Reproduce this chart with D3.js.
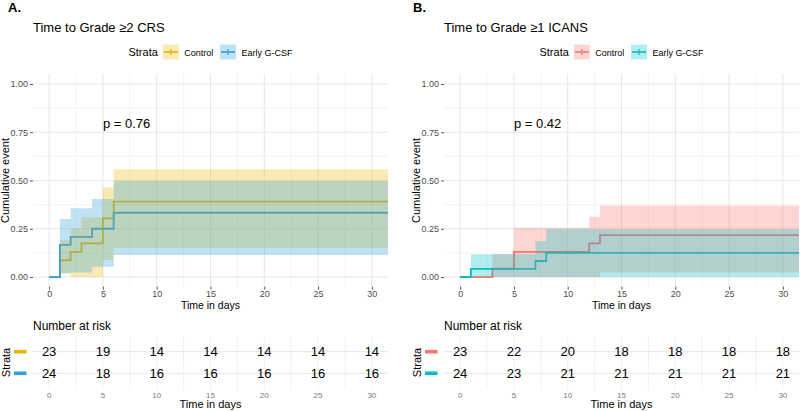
<!DOCTYPE html>
<html>
<head>
<meta charset="utf-8">
<script src="https://cdn.jsdelivr.net/npm/d3@7"></script>
<style>
  body { margin: 0; background: #fff; }
  svg { display: block; font-family: "Liberation Sans", Arial, sans-serif; }
</style>
</head>
<body>
<svg id="chart" width="800" height="411"></svg>
<script>
"use strict";

// ---- data ----
const strata = ["Control", "Early G-CSF"];
const timeTicks = [0, 5, 10, 15, 20, 25, 30];
const cumTicks = [0, 0.25, 0.5, 0.75, 1];
const followUpEnd = 31.5;

// A. time to grade >=2 CRS
const crsControlTime = [0, 1, 2, 3, 5, 6];
const crsControlEst = [0, 0.087, 0.130, 0.174, 0.304, 0.391];
const crsControlLow = [0, 0.02, 0, 0, 0.088, 0.152];
const crsControlUp = [0, 0.19, 0.25, 0.31, 0.465, 0.558];
const crsGcsfTime = [0, 1, 2, 4, 6];
const crsGcsfEst = [0, 0.167, 0.208, 0.25, 0.333];
const crsGcsfLow = [0, 0.02, 0.024, 0.053, 0.114];
const crsGcsfUp = [0, 0.30, 0.356, 0.404, 0.497];
const crsRiskControl = [23, 19, 14, 14, 14, 14, 14];
const crsRiskGcsf = [24, 18, 16, 16, 16, 16, 16];
const crsPval = "p = 0.76";

// B. time to grade >=1 ICANS
const icansControlTime = [0, 3, 5, 12, 13];
const icansControlEst = [0, 0.043, 0.13, 0.174, 0.217];
const icansControlLow = [0, 0, 0, 0, 0.024];
const icansControlUp = [0, 0.12, 0.255, 0.312, 0.37];
const icansGcsfTime = [0, 1, 7, 8];
const icansGcsfEst = [0, 0.042, 0.083, 0.125];
const icansGcsfLow = [0, 0, 0, 0];
const icansGcsfUp = [0, 0.118, 0.185, 0.247];
const icansRiskControl = [23, 22, 20, 18, 18, 18, 18];
const icansRiskGcsf = [24, 23, 21, 21, 21, 21, 21];
const icansPval = "p = 0.42";

const svg = d3.select("#chart");

function toPoints(time, est, low, up) {
    const pts = time.map(function (t, i) {
        return { t: t, e: est[i], lo: low[i], hi: up[i] };
    });
    const last = pts[pts.length - 1];
    pts.push({ t: followUpEnd, e: last.e, lo: last.lo, hi: last.hi });
    return pts;
}

function drawPanel(p) {
    const g = svg.append("g");
    const x = d3.scaleLinear().domain([-1.5, followUpEnd]).range([p.left, p.right]);
    const y = d3.scaleLinear().domain([-0.05, 1.05]).range([286.7, 74.3]);
    const minorX = d3.range(2.5, followUpEnd, 5);
    const minorY = [0.125, 0.375, 0.625, 0.875];

    // tag + title
    g.append("text").attr("x", p.tagX).attr("y", 12)
        .attr("font-size", 13).attr("font-weight", "bold").text(p.tag);
    g.append("text").attr("x", p.left).attr("y", 31.7)
        .attr("font-size", 13).text(p.title);

    // legend, centred over the panel
    const leg = g.append("g");
    const stratTxt = leg.append("text").attr("y", 56).attr("font-size", 11).text("Strata");
    let cx = stratTxt.node().getComputedTextLength() + 5;
    p.series.forEach(function (s, i) {
        leg.append("rect").attr("x", cx).attr("y", 44.5).attr("width", 16).attr("height", 15)
            .attr("fill", s.color).attr("fill-opacity", 0.3);
        leg.append("line").attr("x1", cx + 1).attr("x2", cx + 15).attr("y1", 52).attr("y2", 52)
            .attr("stroke", s.color).attr("stroke-width", 1.6);
        leg.append("line").attr("x1", cx + 8).attr("x2", cx + 8).attr("y1", 49).attr("y2", 55)
            .attr("stroke", s.color).attr("stroke-width", 1.2);
        cx += 21.5;
        const t = leg.append("text").attr("x", cx).attr("y", 55.5).attr("font-size", 9).text(s.name);
        cx += t.node().getComputedTextLength() + (i === 0 ? 6.7 : 0);
    });
    leg.attr("transform", "translate(" + ((p.left + p.right) / 2 - cx / 2) + ",0)");

    // grid
    const grid = g.append("g");
    grid.selectAll(".vmin").data(minorX).join("line")
        .attr("x1", d => x(d)).attr("x2", d => x(d)).attr("y1", y(-0.05)).attr("y2", y(1.05))
        .attr("stroke", "#f0f0f0").attr("stroke-width", 0.8);
    grid.selectAll(".hmin").data(minorY).join("line")
        .attr("x1", p.left).attr("x2", p.right).attr("y1", d => y(d)).attr("y2", d => y(d))
        .attr("stroke", "#f0f0f0").attr("stroke-width", 0.8);
    grid.selectAll(".vmaj").data(timeTicks).join("line")
        .attr("x1", d => x(d)).attr("x2", d => x(d)).attr("y1", y(-0.05)).attr("y2", y(1.05))
        .attr("stroke", "#e6e6e6").attr("stroke-width", 1);
    grid.selectAll(".hmaj").data(cumTicks).join("line")
        .attr("x1", p.left).attr("x2", p.right).attr("y1", d => y(d)).attr("y2", d => y(d))
        .attr("stroke", "#e6e6e6").attr("stroke-width", 1);

    // axes
    const ax = g.append("g").attr("transform", "translate(0," + y(-0.05) + ")")
        .call(d3.axisBottom(x).tickValues(timeTicks).tickSize(3).tickPadding(1));
    const ay = g.append("g").attr("transform", "translate(" + p.left + ",0)")
        .call(d3.axisLeft(y).tickValues(cumTicks).tickFormat(d3.format(".2f")).tickSize(3).tickPadding(2));
    [ax, ay].forEach(function (a) {
        a.select(".domain").remove();
        a.selectAll(".tick line").attr("stroke", "#555");
        a.selectAll(".tick text").attr("fill", "#4d4d4d").attr("font-size", 9)
            .attr("font-family", "Liberation Sans, Arial, sans-serif");
    });
    g.append("text").attr("x", (p.left + p.right) / 2).attr("y", 308.8)
        .attr("text-anchor", "middle").attr("font-size", 10.5).text("Time in days");
    g.append("text").attr("transform", "translate(" + (p.left - 24) + "," + y(0.5) + ") rotate(-90)")
        .attr("text-anchor", "middle").attr("font-size", 11).text("Cumulative event");

    // curves: lines first, ribbons on top (as in the reference)
    const line = d3.line().curve(d3.curveStepAfter).x(d => x(d.t)).y(d => y(d.e));
    const area = d3.area().curve(d3.curveStepAfter).x(d => x(d.t))
        .y0(d => y(d.lo)).y1(d => y(d.hi));
    p.series.forEach(function (s) {
        g.append("path").datum(s.pts).attr("d", line).attr("fill", "none")
            .attr("stroke", s.color).attr("stroke-width", 1.8);
    });
    p.series.forEach(function (s) {
        g.append("path").datum(s.pts).attr("d", area)
            .attr("fill", s.color).attr("fill-opacity", 0.3);
    });

    g.append("text").attr("x", x(5)).attr("y", 127.5).attr("font-size", 13).text(p.pval);

    // number at risk table
    const ry = d3.scalePoint().domain(strata).range([351.7, 373.3]);
    g.append("text").attr("x", p.left).attr("y", 330).attr("font-size", 12).text("Number at risk");
    const rg = g.append("g");
    rg.selectAll(".rv").data(timeTicks.concat(minorX)).join("line")
        .attr("x1", d => x(d)).attr("x2", d => x(d)).attr("y1", 336.5).attr("y2", 390)
        .attr("stroke", "#ececec").attr("stroke-width", 0.8);
    rg.selectAll(".rh").data(strata).join("line")
        .attr("x1", p.left).attr("x2", p.right).attr("y1", d => ry(d)).attr("y2", d => ry(d))
        .attr("stroke", "#e6e6e6").attr("stroke-width", 1);
    p.series.forEach(function (s) {
        rg.append("rect").attr("x", p.left - 19).attr("y", ry(s.name) - 1.8)
            .attr("width", 12.5).attr("height", 3.6).attr("fill", s.color);
        rg.selectAll(null).data(s.risk).join("text")
            .attr("x", (d, i) => x(timeTicks[i])).attr("y", ry(s.name) + 4.6)
            .attr("text-anchor", "middle").attr("font-size", 13).text(d => d);
    });
    rg.append("text").attr("transform", "translate(" + (p.left - 23.5) + "," + 362.5 + ") rotate(-90)")
        .attr("text-anchor", "middle").attr("font-size", 11).text("Strata");
    rg.selectAll(".rt").data(timeTicks).join("text")
        .attr("x", d => x(d)).attr("y", 397.5).attr("text-anchor", "middle")
        .attr("font-size", 8).attr("fill", "#7a7a7a").text(d => d);
    rg.append("text").attr("x", (p.left + p.right) / 2).attr("y", 408)
        .attr("text-anchor", "middle").attr("font-size", 11).text("Time in days");
}

drawPanel({
    left: 33, right: 388, tagX: 8, tag: "A.", title: "Time to Grade \u22652 CRS", pval: crsPval,
    series: [
        { name: strata[0], color: "#E7B800", risk: crsRiskControl,
          pts: toPoints(crsControlTime, crsControlEst, crsControlLow, crsControlUp) },
        { name: strata[1], color: "#2E9FDF", risk: crsRiskGcsf,
          pts: toPoints(crsGcsfTime, crsGcsfEst, crsGcsfLow, crsGcsfUp) }
    ]
});

drawPanel({
    left: 444, right: 799, tagX: 413, tag: "B.", title: "Time to Grade \u22651 ICANS", pval: icansPval,
    series: [
        { name: strata[0], color: "#F8766D", risk: icansRiskControl,
          pts: toPoints(icansControlTime, icansControlEst, icansControlLow, icansControlUp) },
        { name: strata[1], color: "#00BFC4", risk: icansRiskGcsf,
          pts: toPoints(icansGcsfTime, icansGcsfEst, icansGcsfLow, icansGcsfUp) }
    ]
});
</script>
</body>
</html>
